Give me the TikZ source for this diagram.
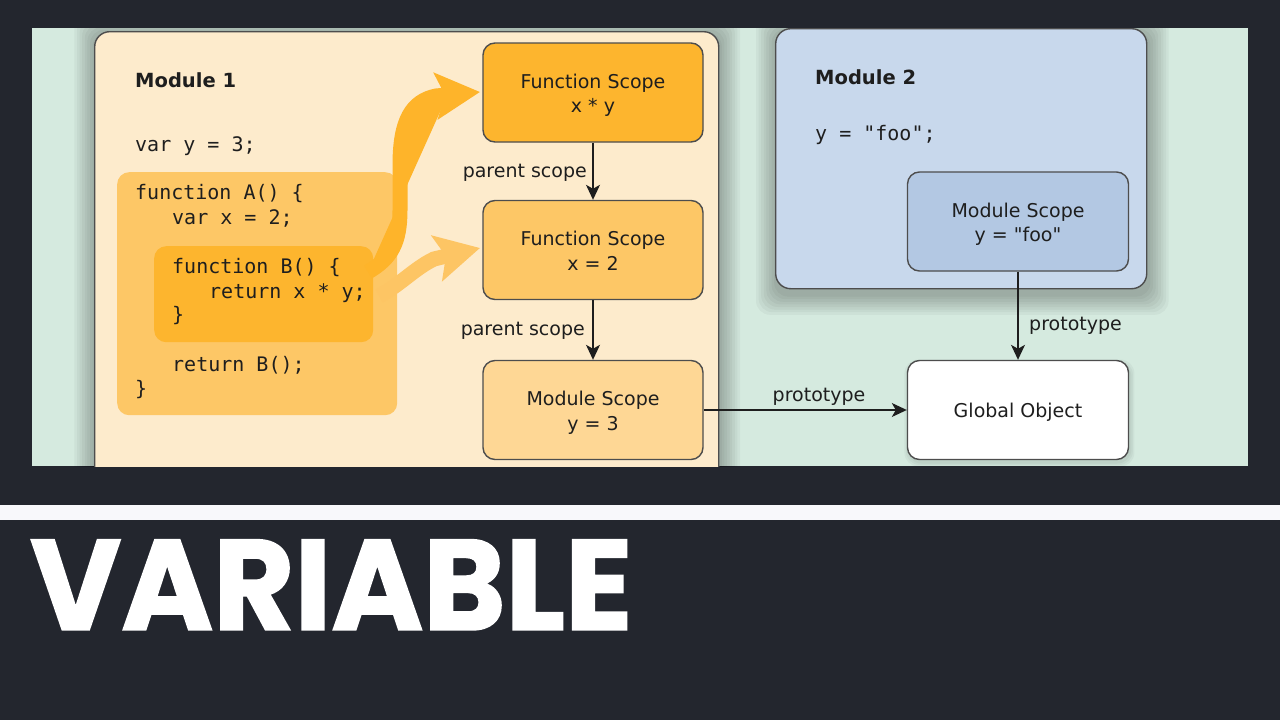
\documentclass[tikz,border=0pt]{standalone}
\usepackage{fontspec}
\usepackage{graphicx}
\setmainfont{DejaVu Sans}
\setmonofont{DejaVu Sans Mono}
\newfontfamily\dvs{DejaVu Sans}
\newfontfamily\poppins{Poppins}[BoldFeatures={FakeBold=1.4}]
\usetikzlibrary{arrows.meta}
\definecolor{bgdark}{HTML}{23262E}
\definecolor{bggreen}{HTML}{D5EADF}
\definecolor{txt}{HTML}{1E1E1E}
\definecolor{bord}{HTML}{4D4D4D}
\definecolor{modone}{HTML}{FDEBCC}
\definecolor{orA}{HTML}{FDC766}
\definecolor{orB}{HTML}{FDB52E}
\definecolor{orC}{HTML}{FED795}
\definecolor{modtwo}{HTML}{C8D8EC}
\definecolor{msf}{HTML}{B3C8E3}
\definecolor{arrA}{HTML}{FEB42A}
\definecolor{arrB}{HTML}{FDC564}
\definecolor{stripe}{HTML}{F8F8FB}
% soft shadow: x1 y1 x2 y2 (pixels, y down), layers, spread per layer, offset
\newcommand\mysoftshadow[7]{%
  \foreach \i in {1,...,#5}{%
    \fill[black, opacity=0.035, rounded corners=14pt]
      ({#1-\i*#6+#7*0.3},{#2-\i*#6+#7}) rectangle ({#3+\i*#6+#7*0.3},{#4+\i*#6+#7});
  }}
\tikzset{
  modbox/.style={draw=bord, line width=1.4pt, rounded corners=15pt, inner sep=0pt},
  scopebox/.style={draw=bord, line width=1.4pt, rounded corners=12pt, minimum width=220pt,
    minimum height=99pt, align=center, text=txt, font=\dvs\fontsize{19}{24.5}\selectfont,
    text height=45pt, text depth=5pt},
  onelinebox/.style={scopebox, text height=19pt, text depth=5pt},
  codebox/.style={rounded corners=12pt, inner sep=0pt},
  code/.style={font=\ttfamily\fontsize{20}{24}\selectfont, anchor=base west, inner sep=0pt, text=txt},
  title/.style={font=\dvs\bfseries\fontsize{19.5}{24}\selectfont, anchor=base west, inner sep=0pt, text=txt},
  lbl/.style={font=\dvs\fontsize{19}{24}\selectfont, inner sep=0pt, text=txt},
  conn/.style={draw=txt, line width=1.3pt, -{Stealth[length=15pt,width=14pt,inset=4pt]}},
  bigarrow/.style={line width=15pt, -{Stealth[length=44pt,width=46pt,inset=9pt]}}
}
\begin{document}
\begin{tikzpicture}[x=1pt,y=-1pt]
\useasboundingbox (0,0) rectangle (1280,720);
\fill[bgdark] (0,0) rectangle (1280,720);
\fill[bggreen] (32,28) rectangle (1248,466);
\fill[stripe] (0,505) rectangle (1280,520);
\begin{scope}
\clip (32,28) rectangle (1248,466);
% shadows
\mysoftshadow{94}{31}{718}{511}{8}{2.6}{4}
\mysoftshadow{775}{28}{1146}{288}{8}{2.6}{6}
\mysoftshadow{483}{43}{703}{142}{3}{1.5}{3}
\mysoftshadow{483}{201}{703}{299}{3}{1.5}{3}
\mysoftshadow{483}{361}{703}{459}{3}{1.5}{3}
\mysoftshadow{908}{172}{1129}{271}{3}{1.5}{3}
\mysoftshadow{908}{361}{1129}{459}{3}{1.5}{3}
% Module 1
\node[modbox, fill=modone, minimum width=624pt, minimum height=480pt, anchor=north west] (m1) at (94,31) {};
% Module 2
\node[modbox, fill=modtwo, minimum width=371pt, minimum height=260pt, anchor=north west] (m2) at (775,28) {};
% function A / B code regions
\node[codebox, fill=orA, minimum width=280pt, minimum height=243pt, anchor=north west] (fa) at (117,172) {};
\node[codebox, fill=orB, minimum width=219pt, minimum height=96pt, anchor=north west] (fb) at (154,246) {};
% code text
\node[title] (t1) at (135,87) {Module 1};
\node[code] (c1) at (135,151) {var y = 3;};
\node[code] (c2) at (135,199) {function A() \{};
\node[code] (c3) at (172,224) {var x = 2;};
\node[code] (c4) at (172,273) {function B() \{};
\node[code] (c5) at (209,298) {return x * y;};
\node[code] (c6) at (172,321) {\}};
\node[code] (c7) at (172,371) {return B();};
\node[code] (c8) at (135,395) {\}};
\node[title] (t2) at (815,84) {Module 2};
\node[code] (c9) at (815,140) {y = "foo";};
% scope boxes
\node[scopebox, fill=orB] (fs1) at (593,92.5) {Function Scope\\x * y};
\node[scopebox, fill=orA] (fs2) at (593,250) {Function Scope\\x = 2};
\node[scopebox, fill=orC] (ms1) at (593,410) {Module Scope\\y = 3};
\node[scopebox, fill=msf, minimum width=221pt] (msf) at (1018,221.5) {Module Scope\\y = "foo"};
\node[onelinebox, fill=white, minimum width=221pt] (go) at (1018,410) {Global Object};
% orange arrows
\coordinate (a1s) at (368,272);
\coordinate (a1t) at (480,92);
\coordinate (a2s) at (379,296);
\coordinate (a2t) at (480,248);
\draw[bigarrow, draw=arrA, fill=arrA] (a1s) .. controls (392,258) and (400,242) .. (400,210)
  -- (400,165) .. controls (400,120) and (412,101) .. (436,96) -- (a1t);
\draw[bigarrow, draw=arrB, fill=arrB] (a2s) .. controls (400,285) and (415,268) .. (434,259) -- (a2t);
% connectors
\draw[conn] (fs1.south) -- (fs2.north);
\draw[conn] (fs2.south) -- (ms1.north);
\draw[conn] (ms1.east) -- (go.west);
\draw[conn] (msf.south) -- (go.north);
\node[lbl, anchor=base east] (p1) at (587,177) {parent scope};
\node[lbl, anchor=base east] (p2) at (585,335) {parent scope};
\node[lbl, anchor=base] (p3) at (819,401) {prototype};
\node[lbl, anchor=base west] (p4) at (1029,330) {prototype};
\end{scope}
\node[anchor=south west, inner sep=0pt, text=white] (ttl) at (30,630)
  {\resizebox{602pt}{90pt}{\poppins\bfseries VARIABLE}};
\end{tikzpicture}
\end{document}
